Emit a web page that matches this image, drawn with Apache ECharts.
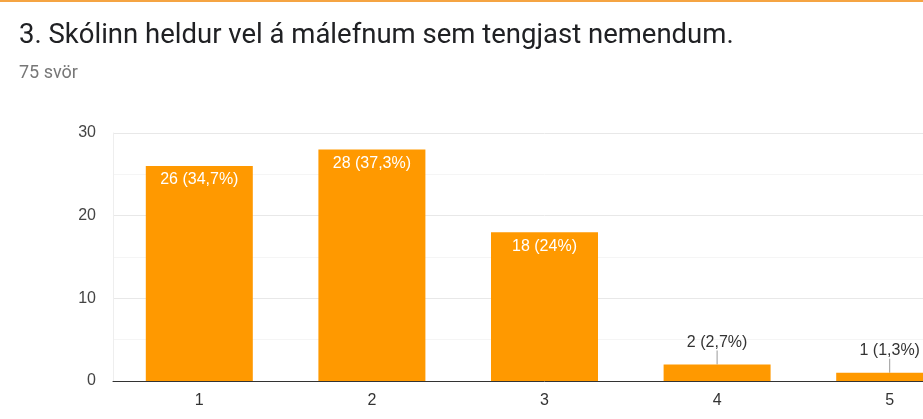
<!DOCTYPE html>
<html>
<head>
<meta charset="utf-8">
<script src="https://cdn.jsdelivr.net/npm/echarts@6/dist/echarts.min.js"></script>
<style>
html, body { margin: 0; padding: 0; overflow: hidden; background: #fff; }
.top-line { position: absolute; left: 0; top: 0; width: 923px; height: 2px; background: #f5a443; }
#chart { position: absolute; left: 0; top: 0; width: 1000px; height: 419px; }
</style>
</head>
<body>
<div id="chart"></div>
<div class="top-line"></div>
<script>
const categories = ['1', '2', '3', '4', '5']
const counts = [26, 28, 18, 2, 1]
const percents = ['34,7%', '37,3%', '24%', '2,7%', '1,3%']
const yTicks = [0, 10, 20, 30]

const myChart = echarts.init(document.getElementById('chart'))

const barData = counts.map((v, i) => {
    const small = v < 5
    return {
        value: v,
        label: small ? {
            position: 'top',
            color: '#333',
            distance: 2
        } : {
            position: 'insideTop',
            color: '#fff',
            distance: 6
        }
    }
})

const option = {
    animation: false,
    title: [{
        text: '3. Skólinn heldur vel á málefnum sem tengjast nemendum.',
        left: 14,
        top: 17,
        textStyle: { fontFamily: 'Roboto', fontSize: 27.5, fontWeight: 'normal', color: '#202124' }
    }, {
        text: '75 svör',
        left: 14,
        top: 59,
        textStyle: { fontFamily: 'Roboto', fontSize: 18, fontWeight: 'normal', color: '#777' }
    }],
    grid: {
        left: 113,
        top: 133,
        width: 863,
        height: 248
    },
    xAxis: {
        type: 'category',
        data: categories,
        axisLine: { lineStyle: { color: '#333', width: 1 } },
        axisTick: { show: false },
        axisLabel: { color: '#333', fontFamily: 'Arial', fontSize: 16, margin: 12 }
    },
    yAxis: {
        type: 'value',
        min: yTicks[0],
        max: yTicks[yTicks.length - 1],
        interval: 10,
        axisLine: { show: true, lineStyle: { color: '#eee' } },
        axisTick: { show: false },
        axisLabel: { color: '#444', fontFamily: 'Arial', fontSize: 16, margin: 17 },
        splitLine: { lineStyle: { color: '#e8e8e8' } },
        minorTick: { show: false, splitNumber: 2 },
        minorSplitLine: { show: true, lineStyle: { color: '#f5f5f5' } }
    },
    series: [{
        type: 'bar',
        data: barData,
        barWidth: 107,
        itemStyle: { color: '#ff9900' },
        label: {
            show: true,
            fontFamily: 'Arial',
            fontSize: 16,
            formatter: (p) => p.value + ' (' + percents[p.dataIndex] + ')'
        },
        labelLayout: (p) => p.dataIndex >= 3 ? { dy: -12 } : {},
        labelLine: { show: true, lineStyle: { color: '#999', width: 1 } }
    }]
}
myChart.setOption(option)
</script>
</body>
</html>
